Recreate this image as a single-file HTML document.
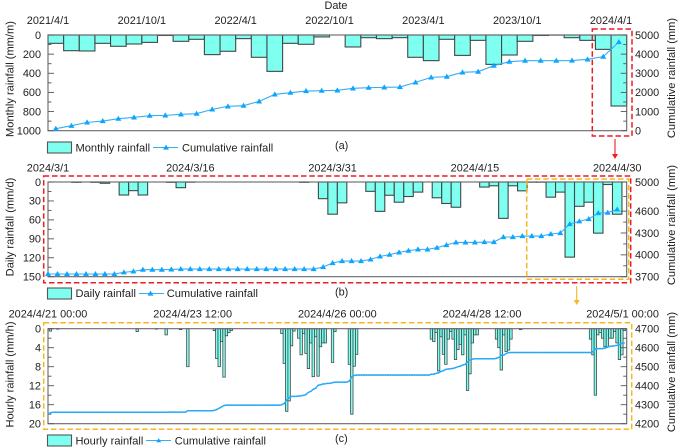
<!DOCTYPE html>
<html lang="en">
<head>
<meta charset="utf-8">
<title>Rainfall charts</title>
<style>
html,body{margin:0;padding:0;background:#fff;width:685px;height:448px;overflow:hidden}
svg{display:block;filter:blur(0.3px)}
text{font-family:"Liberation Sans",sans-serif;font-size:10.9px;fill:#222}
.title{font-size:11.1px}
</style>
</head>
<body>
<svg id="chart" xmlns="http://www.w3.org/2000/svg" width="685" height="448" viewBox="0 0 685 448">
  <rect width="685" height="448" fill="#fff"/>
  <text x="336" y="9" text-anchor="middle">Date</text>

  <g>
    <rect x="47.5" y="142" width="24" height="11" fill="#7ffff0" stroke="#555" stroke-width="1.1"/>
    <text class="title" x="75.5" y="151.5">Monthly rainfall</text>
    <line x1="153" y1="147.5" x2="178" y2="147.5" stroke="#35aef5" stroke-width="1.1"/>
    <polygon points="166,144.6 169,149.6 163,149.6" fill="#0ea5ff"/>
    <text class="title" x="182" y="151.5">Cumulative rainfall</text>
    <text x="335" y="149">(a)</text>
  </g>
  <g>
    <rect x="47.5" y="288" width="24" height="11" fill="#7ffff0" stroke="#555" stroke-width="1.1"/>
    <text class="title" x="75.5" y="297">Daily rainfall</text>
    <line x1="139" y1="293.5" x2="164" y2="293.5" stroke="#35aef5" stroke-width="1.1"/>
    <polygon points="150.5,290.6 153.5,295.6 147.5,295.6" fill="#0ea5ff"/>
    <text class="title" x="166.7" y="297">Cumulative rainfall</text>
    <text x="335" y="295.5">(b)</text>
  </g>
  <g>
    <rect x="47.5" y="435" width="24" height="11" fill="#7ffff0" stroke="#555" stroke-width="1.1"/>
    <text class="title" x="75.5" y="444.5">Hourly rainfall</text>
    <line x1="146" y1="440.5" x2="171" y2="440.5" stroke="#35aef5" stroke-width="1.1"/>
    <polygon points="158.7,438.1 161.2,442.2 156.2,442.2" fill="#0ea5ff"/>
    <text class="title" x="174.7" y="444.5">Cumulative rainfall</text>
    <text x="335" y="442">(c)</text>
  </g>

  <g id="panels"></g>

  <g fill="none" stroke-width="1.5" stroke-dasharray="5.5 2.8">
    <rect x="592.3" y="29" width="39.7" height="107" stroke="#ee1c25"/>
    <rect x="43.7" y="176" width="587" height="106.7" stroke="#ee1c25"/>
    <rect x="526.7" y="179" width="102" height="100.3" stroke="#f5b820"/>
    <rect x="43.7" y="322.7" width="588" height="106.6" stroke="#f5b820"/>
  </g>
  <g>
    <line x1="615" y1="139" x2="615" y2="155" stroke="#ee1c25" stroke-width="1.1"/>
    <polygon points="612,154 618,154 615,159" fill="#ee1c25"/>
    <line x1="576.7" y1="286" x2="576.7" y2="301" stroke="#f5b820" stroke-width="1.1"/>
    <polygon points="573.7,300 579.7,300 576.7,305" fill="#f5b820"/>
  </g>
</svg>

<script>
// ---------- Panel (a): monthly ----------
const monthlyRain = [87,164,167,87,118,94,77,5,66,45,205,170,38,233,380,87,97,20,0,125,28,38,28,233,268,45,213,56,307,209,66,5,1,28,56,150,742];
const monthlyCumulative = [105,260,435,505,627,697,784,801,854,889,1115,1272,1307,1533,1899,1986,2073,2090,2108,2213,2247,2265,2282,2526,2787,2822,3049,3084,3397,3606,3659,3659,3659,3665,3728,3868,4634];
const monthlyDateLabels = ["2021/4/1","2021/10/1","2022/4/1","2022/10/1","2023/4/1","2023/10/1","2024/4/1"];
const monthlyDatePositions = [0,6,12,18,24,30,36];
const monthlyLeftTicks = [0,200,400,600,800,1000];
const monthlyRightTicks = [0,1000,2000,3000,4000,5000];

// ---------- Panel (b): daily ----------
const dailyRain = [0,0,0,0.5,0,0.5,2,0,20.6,13.7,20.6,0,0,0.5,9,0.3,0,0,0,0,0,0,0,0,0,0,0,0.5,0,26.4,51,33,0,0,14.8,46.5,21,32,23,16,0,25,34,40,0,0,8,6,57.6,6,14,0.3,0.3,24,16,119,38.5,32,81,4,51];
const dailyCumulative = [3737,3737,3737,3737,3737,3737,3737,3737,3760,3773,3796,3796,3796,3800,3805,3805,3805,3805,3805,3805,3805,3805,3805,3805,3805,3805,3805,3805,3805,3833,3888,3915,3915,3915,3938,3979,4002,4034,4057,4075,4075,4098,4135,4171,4171,4171,4176,4176,4245,4245,4258,4258,4258,4286,4300,4423,4460,4492,4574,4579,4624];
const dailyDateLabels = ["2024/3/1","2024/3/16","2024/3/31","2024/4/15","2024/4/30"];
const dailyDatePositions = [0,15,30,45,60];
const dailyLeftTicks = [0,30,60,90,120,150];
const dailyRightTicks = [3700,4000,4300,4600,5000];

// ---------- Panel (c): hourly ----------
const hourlyRain = [
0,0.5,0,0,0.1,0,0,0,0,0,
0,0,0,0,0,0,0,0,0,0,
0,0,0,0,0,0,0,0,0,0,
0,0,0,0,0,0,0,0.6,0,0,
0,0,0,0,0,0.1,0,0,0,1.3,
0,0,0,0,0,0.2,0,0,8,0,
0,0,0,0,0,0,0,0,0,0.4,
6.3,8,2.7,10.2,1.5,0.8,0.4,0,0,0,
0,0,0,0,0,0,0,0,0,0,
0,0,0,0,0,0,0,1,7.3,17.4,
15.2,3.6,0.5,0,2,5.5,1,5.2,8.4,3,
10.1,1.7,10,3.8,3,3,0,0,7.1,0.6,
0,0,0,0,0,7.5,18,7.9,5.4,0,
0,0,0,0,0,0,0,0,0,0,
0,0,0,0,0,0,0,0,0,0,
0,0,0,0,0,0,0,0,0,2.2,
2.7,0.8,8.9,1.7,5.4,7.5,2.2,0.6,2.2,6.5,
4.4,3.3,5.5,1.3,13,9.5,3,1.3,1.3,0,
0,0,0,0,0,0,2.2,4,8.7,1.3,
4.8,4.5,2.2,0,0,0,0.2,0,0,0,
0,0,0,0,0,0,0,0,0,0,
0,0,0,0,0,0,0,0,0,0,
0,0,0,0,0,2.2,5.5,14,1.3,0.8,
2,3.8,3.8,2,2,0.6,3,6.5,5.5,0.4];
const hourlyCumulative = [
4251,4258,4260,4260,4260,4260,4260,4260,4260,4260,
4260,4260,4260,4260,4260,4260,4260,4260,4260,4260,
4260,4260,4260,4260,4260,4260,4260,4260,4260,4260,
4260,4260,4260,4260,4260,4260,4260,4260,4260,4260,
4260,4260,4260,4260,4260,4260,4260,4260,4260,4260,
4261,4261,4261,4261,4261,4261,4261,4261,4268,4268,
4268,4268,4268,4268,4268,4268,4268,4268,4268,4270,
4275,4282,4289,4296,4298,4298,4298,4298,4298,4298,
4298,4298,4298,4298,4298,4298,4298,4298,4298,4298,
4298,4298,4298,4298,4298,4298,4298,4300,4307,4325,
4337,4344,4344,4344,4346,4347,4349,4354,4365,4370,
4381,4386,4402,4405,4409,4410,4412,4412,4416,4419,
4419,4419,4419,4419,4419,4425,4447,4454,4456,4456,
4456,4456,4456,4456,4456,4456,4456,4456,4456,4456,
4456,4456,4456,4456,4456,4456,4456,4456,4456,4456,
4456,4456,4456,4456,4456,4456,4456,4456,4456,4460,
4461,4465,4468,4475,4479,4486,4488,4489,4491,4495,
4500,4503,4509,4512,4526,4535,4540,4542,4542,4542,
4542,4542,4542,4542,4542,4542,4544,4549,4560,4561,
4570,4574,4575,4575,4575,4575,4575,4575,4575,4575,
4575,4575,4575,4575,4575,4575,4575,4575,4575,4575,
4575,4575,4575,4575,4575,4575,4575,4575,4575,4575,
4575,4575,4575,4575,4575,4575,4579,4593,4595,4595,
4595,4598,4603,4607,4609,4610,4612,4617,4623,4626];
const hourlyDateLabels = ["2024/4/21 00:00","2024/4/23 12:00","2024/4/26 00:00","2024/4/28 12:00","2024/5/1 00:00"];
const hourlyDatePositions = [0,60,120,180,238.3];
const hourlyLeftTicks = [0,4,8,12,16,20];
const hourlyRightTicks = [4200,4300,4400,4500,4600,4700];

const SVGNS = "http://www.w3.org/2000/svg";
const root = document.getElementById("panels");

function make(tag, parent, props, text) {
  const el = document.createElementNS(SVGNS, tag);
  for (const k in props) el.setAttribute(k, props[k]);
  if (text !== undefined) el.textContent = text;
  parent.appendChild(el);
  return el;
}
function scale(d0, d1, r0, r1) {
  return v => r0 + (v - d0) / (d1 - d0) * (r1 - r0);
}

function drawPanel(cfg) {
  const g = make("g", root, {});
  
  

  const L = 48, R = 626.7;
  const x = scale(0, cfg.xMax, L, R);
  const yL = scale(0, cfg.leftMax, cfg.top, cfg.bottom);
  const yR = scale(cfg.rightMin, cfg.rightMax, cfg.bottom, cfg.top);

  // rainfall bars
  cfg.rain.forEach((v, i) => {
    if (v <= 0) return;
    const xc = x(i + cfg.barOffset);
    const w = cfg.barWidth * (x(1) - x(0));
    const bar = make("rect", g, {
      x: xc - w / 2, y: cfg.top, width: w, height: yL(v) - cfg.top,
      fill: "#7ffff0", stroke: "#3d4a4a", "stroke-width": cfg.barStroke
    });
    
    
  });

  // frame
  const frame = make("rect", g, {
    x: L, y: cfg.top, width: R - L, height: cfg.bottom - cfg.top,
    fill: "none", stroke: "#666", "stroke-width": 1.1
  });
  
  

  // left ticks and labels
  cfg.leftTicks.forEach((v, i) => {
    const y = yL(v);
    const t = make("line", g, {x1: L, x2: L + 6, y1: y, y2: y, stroke: "#555", "stroke-width": 0.9});
    
    
    const lab = make("text", g, {x: 41, y: y + 3.8, "text-anchor": "end"}, String(v));
    
    
    if (i < cfg.leftTicks.length - 1) {
      const mid = yL((v + cfg.leftTicks[i + 1]) / 2);
      const m = make("line", g, {x1: L, x2: L + 3.5, y1: mid, y2: mid, stroke: "#555", "stroke-width": 0.9});
      
      
    }
  });

  // right ticks and labels
  cfg.rightTicks.forEach((v, i) => {
    const y = yR(v);
    const t = make("line", g, {x1: R - 6, x2: R, y1: y, y2: y, stroke: "#555", "stroke-width": 0.9});
    
    
    const lab = make("text", g, {x: 635, y: y + 3.8}, String(v));
    
    
    if (i < cfg.rightTicks.length - 1) {
      const mid = yR((v + cfg.rightTicks[i + 1]) / 2);
      const m = make("line", g, {x1: R - 3.5, x2: R, y1: mid, y2: mid, stroke: "#555", "stroke-width": 0.9});
      
      
    }
  });

  // date labels
  cfg.dateLabels.forEach((s, i) => {
    const lab = make("text", g, {x: x(cfg.datePositions[i]), y: cfg.dateY, "text-anchor": "middle"}, s);
    
    
  });

  // axis titles
  const lt = make("text", g, {
    class: "title",
    transform: "translate(13.5 " + cfg.leftTitleY + ") rotate(-90)", "text-anchor": "middle"
  }, cfg.leftTitle);
  
  
  const rt = make("text", g, {
    class: "title",
    transform: "translate(675 " + cfg.rightTitleY + ") rotate(-90)", "text-anchor": "middle"
  }, "Cumulative rainfall (mm)");
  
  

  // cumulative line
  const pts = cfg.cumulative.map((v, i) => [x(i + cfg.lineOffset), yR(v)]);
  const line = make("polyline", g, {
    points: pts.map(p => p[0].toFixed(2) + "," + p[1].toFixed(2)).join(" "),
    fill: "none", stroke: "#35aef5", "stroke-width": cfg.lineWidth
  });
  
  
  const s = cfg.markerSize;
  pts.forEach(p => {
    const mk = make("polygon", g, {
      points: (p[0]) + "," + (p[1] - s) + " " + (p[0] + s) + "," + (p[1] + s * 0.7) + " " + (p[0] - s) + "," + (p[1] + s * 0.7),
      fill: "#0ea5ff"
    });
    
    
  });
}

drawPanel({
  name: "monthly-rainfall-panel", top: 35, bottom: 130.7, xMax: 37,
  rain: monthlyRain, cumulative: monthlyCumulative,
  barOffset: 0.5, lineOffset: 0.5, barWidth: 1, barStroke: 1.1,
  leftMax: 1000, leftTicks: monthlyLeftTicks,
  rightMin: 0, rightMax: 5000, rightTicks: monthlyRightTicks,
  dateLabels: monthlyDateLabels, datePositions: monthlyDatePositions, dateY: 24,
  leftTitle: "Monthly rainfall (mm/m)", leftTitleY: 79, rightTitleY: 78,
  lineWidth: 1.1, markerSize: 3
});
drawPanel({
  name: "daily-rainfall-panel", top: 182, bottom: 276.7, xMax: 61,
  rain: dailyRain, cumulative: dailyCumulative,
  barOffset: 0, lineOffset: 0, barWidth: 1, barStroke: 1.1,
  leftMax: 150, leftTicks: dailyLeftTicks,
  rightMin: 3700, rightMax: 5000, rightTicks: dailyRightTicks,
  dateLabels: dailyDateLabels, datePositions: dailyDatePositions, dateY: 171.5,
  leftTitle: "Daily rainfall (mm/d)", leftTitleY: 227, rightTitleY: 225,
  lineWidth: 1.1, markerSize: 3
});
drawPanel({
  name: "hourly-rainfall-panel", top: 328.7, bottom: 423.7, xMax: 240,
  rain: hourlyRain, cumulative: hourlyCumulative,
  barOffset: 0, lineOffset: 0, barWidth: 1, barStroke: 0.8,
  leftMax: 20, leftTicks: hourlyLeftTicks,
  rightMin: 4200, rightMax: 4700, rightTicks: hourlyRightTicks,
  dateLabels: hourlyDateLabels, datePositions: hourlyDatePositions, dateY: 317.5,
  leftTitle: "Hourly rainfall (mm/h)", leftTitleY: 374.5, rightTitleY: 372,
  lineWidth: 1.5, markerSize: 0.9
});
</script>
</body>
</html>
